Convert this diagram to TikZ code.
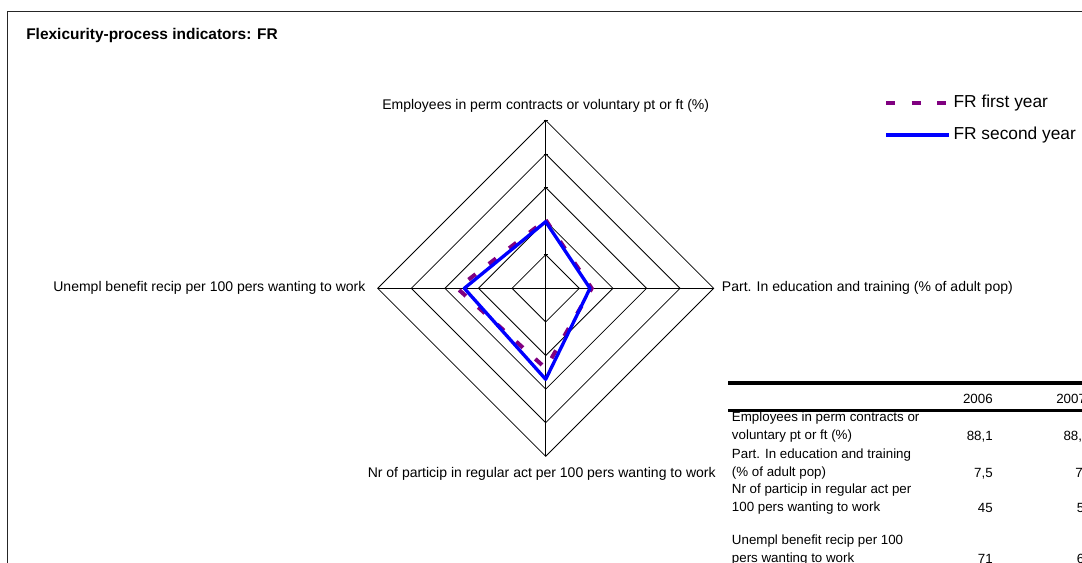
\documentclass[tikz,border=0pt]{standalone}
\usepackage{fontspec}
\setmainfont{Liberation Sans}
\usetikzlibrary{positioning}
\definecolor{frpurple}{RGB}{128,0,128}

\begin{document}
\begin{tikzpicture}[x=0.75pt,y=-0.75pt,
    grid/.style={black,line width=0.6pt},
    firstyr/.style={frpurple,line width=3pt,dash pattern=on 6.75pt off 12.5pt},
    secondyr/.style={blue,line width=2.5pt,line join=round},
    axlab/.style={inner sep=0pt,font=\fontsize{10.5}{12}\selectfont},
    keylab/.style={inner sep=0pt,font=\fontsize{13}{15}\selectfont},
    rowlab/.style={inner sep=0pt,anchor=west,align=left,font=\fontsize{10}{13.5}\selectfont},
    val/.style={inner sep=0pt,anchor=east,font=\fontsize{10}{12}\selectfont},
    cut/.style={inner sep=0pt,anchor=west,font=\fontsize{10}{12}\selectfont}]
\useasboundingbox (0,0) rectangle (1082,562);
\draw[black!85,line width=1.1pt] (7.5,11.5) rectangle (1110,590);
\node[inner sep=0pt,anchor=west,font=\bfseries\fontsize{11.6}{14}\selectfont] (title) at (26,35.5) {Flexicurity-process indicators: FR};

\coordinate (O) at (545.7,288.3);
\coordinate (N) at (545.7,120.3);
\coordinate (E) at (713.7,288.3);
\coordinate (S) at (545.7,456.3);
\coordinate (W) at (377.7,288.3);
\foreach \r in {33.6,67.2,100.8,134.4,168}
    \draw[grid,shift={(O)}] (0,-\r) -- (\r,0) -- (0,\r) -- (-\r,0) -- cycle;
\draw[grid] (N) -- (S) (W) -- (E);
\foreach \r in {0,33.6,67.2,100.8,134.4,168}
    \draw[grid,shift={(O)}] (-2,-\r) -- (2,-\r);

\path[shift={(O)}] (0,-68.3) coordinate (a1) (46,0) coordinate (b1)
    (0,80) coordinate (c1) (-88.4,0) coordinate (d1);
\path[shift={(O)}] (0,-66.6) coordinate (a2) (44.3,0) coordinate (b2)
    (0,91) coordinate (c2) (-81.4,0) coordinate (d2);
\draw[firstyr] (a1) -- (b1) -- (c1) -- (d1) -- cycle;
\draw[secondyr] (a2) -- (b2) -- (c2) -- (d2) -- cycle;

\node[axlab,above=6pt of N] (lN) {Employees in perm contracts or voluntary pt or ft (\%)};
\node[axlab,right=6pt of E] (lE) {Part. In education and training (\% of adult pop)};
\node[axlab,below=8pt of S,xshift=-3pt] (lS) {Nr of particip in regular act per 100 pers wanting to work};
\node[axlab,left=9pt of W] (lW) {Unempl benefit recip per 100 pers wanting to work};

\coordinate (k1) at (886,102.7);
\coordinate (k1e) at (948,102.7);
\coordinate (k2) at (886,135);
\coordinate (k2e) at (949.3,135);
\draw[firstyr] (k1) -- (k1e);
\draw[secondyr,line width=2.6pt] (k2) -- (k2e);
\node[keylab,right=4pt of k1e] (t1) {FR first year};
\node[keylab,right=3pt of k2e] (t2) {FR second year};

\coordinate (r0) at (728,383);
\coordinate (r0e) at (1100,383);
\coordinate (r1) at (728,410.7);
\coordinate (r1e) at (1100,410.7);
\draw[line width=3pt] (r0) -- (r0e);
\draw[line width=2.5pt] (r1) -- (r1e);
\node[val] (h1) at (993,399.3) {2006};
\node[cut] (h2) at (1056,399.3) {2007};

\node[rowlab] (row1) at (731.7,427.5) {Employees in perm contracts or\\voluntary pt or ft (\%)};
\node[rowlab] (row2) at (731.7,464.3) {Part. In education and training\\(\% of adult pop)};
\node[rowlab] (row3) at (731.7,499.5) {Nr of particip in regular act per\\100 pers wanting to work};
\node[rowlab] (row4) at (731.7,550.5) {Unempl benefit recip per 100\\pers wanting to work};
\node[val] (v1) at (993,437) {88,1};
\node[val] (v2) at (993,474) {7,5};
\node[val] (v3) at (993,507.7) {45};
\node[val] (v4) at (993,559.3) {71};
\node[cut] (w1) at (1063.3,437) {88,};
\node[cut] (w2) at (1075,474) {7,};
\node[cut] (w3) at (1076.7,507.7) {5};
\node[cut] (w4) at (1076.7,559.3) {6};
\end{tikzpicture}
\end{document}
